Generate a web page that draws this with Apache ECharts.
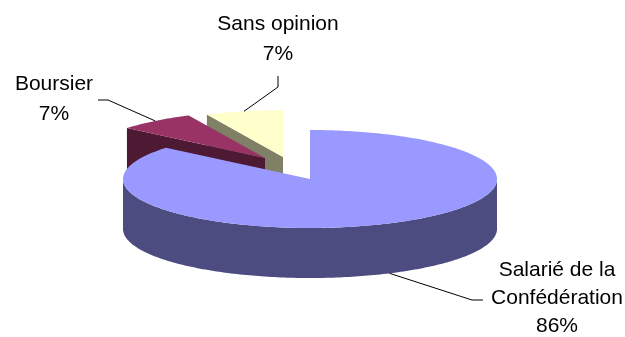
<!DOCTYPE html>
<html>
<head>
<meta charset="utf-8">
<script src="https://cdn.jsdelivr.net/npm/echarts@6/dist/echarts.min.js"></script>
<style>
  html, body { margin: 0; padding: 0; background: #ffffff; }
  #chart { width: 625px; height: 337px; }
</style>
</head>
<body>
<div id="chart"></div>
<script>
// Survey answers
const categories = ['Salarié de la Confédération', 'Boursier', 'Sans opinion'];
const labelNames = ['Salarié de la\nConfédération', 'Boursier', 'Sans opinion'];
const values = [86, 7, 7];

// Slice colours: top face and shaded sides
const topColors = ['#9999FF', '#993366', '#FFFFCC'];
const sideColors = ['#4C4C80', '#4D1933', '#808066'];

// 3D pie geometry (ellipse radii + thickness)
const pie = { cx: 310, cy: 179, rx: 187, ry: 49, depth: 50 };
// Screen offset of each exploded slice
const explode = [[0, 0], [-45, -21], [-27, -22]];
// Perspective shrink per pixel moved towards the back
const perspective = 0.002;
// Painting order (back to front)
const layer = [3, 2, 1];
// Label placement and leader-line bends
const labelLayout = [
  { x: 557, y: 298, lineHeight: 28, elbow: [472, 300], end: [483, 300] },
  { x: 54, y: 99, lineHeight: 30, elbow: [108, 100], end: [98, 100] },
  { x: 278, y: 39, lineHeight: 30, elbow: [278, 87], end: [278, 76] }
];

const total = values.reduce((a, b) => a + b, 0);
const starts = [];
values.reduce((acc, v, i) => { starts[i] = acc; return acc + v; }, 0);

function makePoint(c, k) {
  return function (a, dy) {
    return [c[0] + pie.rx * k * Math.sin(a), c[1] - pie.ry * k * Math.cos(a) + (dy || 0)];
  };
}
function arc(pt, a0, a1, dy) {
  const n = Math.max(2, Math.ceil(Math.abs(a1 - a0) / (Math.PI / 180)));
  const pts = [];
  for (let k = 0; k <= n; k++) pts.push(pt(a0 + (a1 - a0) * k / n, dy));
  return pts;
}

function renderItem(params, api) {
  const i = params.dataIndex;
  const v = api.value(1);
  const a0 = starts[i] / total * Math.PI * 2;
  const a1 = a0 + v / total * Math.PI * 2;
  const c = [pie.cx + explode[i][0], pie.cy + explode[i][1]];
  const k = 1 + explode[i][1] * perspective;
  const pt = makePoint(c, k);
  const h = pie.depth * k;
  const base = layer[i] * 10;
  const children = [];

  // radial cut faces facing the viewer
  [[a0, Math.sin(a0) < -1e-6], [a1, Math.sin(a1) > 1e-6]].forEach(function (f) {
    if (!f[1]) return;
    const p = pt(f[0]);
    children.push({ type: 'polygon', z2: base,
      shape: { points: [c, p, [p[0], p[1] + h], [c[0], c[1] + h]] },
      style: { fill: sideColors[i] } });
  });
  // outer rim, front half only
  const s = Math.max(a0, Math.PI / 2), e = Math.min(a1, Math.PI * 1.5);
  if (s < e) {
    const rim = arc(pt, s, e, 0).concat(arc(pt, e, s, h));
    children.push({ type: 'polygon', z2: base + 1,
      shape: { points: rim }, style: { fill: sideColors[i] } });
  }
  // top face
  children.push({ type: 'polygon', z2: base + 2,
    shape: { points: [c].concat(arc(pt, a0, a1, 0)) },
    style: { fill: topColors[i] } });

  // leader line and label
  const mid = (a0 + a1) / 2;
  const anchor = pt(mid, Math.cos(mid) < 0 ? h : 0);
  const L = labelLayout[i];
  children.push({ type: 'polyline', z2: 100,
    shape: { points: [anchor, L.elbow, L.end] },
    style: { stroke: '#000000', lineWidth: 1, fill: null } });
  const pct = Math.round(v / total * 100) + '%';
  children.push({ type: 'text', z2: 101, x: L.x, y: L.y,
    style: {
      text: labelNames[i] + '\n' + pct,
      fill: '#000000',
      fontSize: 21,
      fontFamily: '"Liberation Sans", Arial, sans-serif',
      lineHeight: L.lineHeight,
      align: 'center',
      verticalAlign: 'middle'
    } });

  return { type: 'group', children: children };
}

const chart = echarts.init(document.getElementById('chart'), null, { renderer: 'canvas' });
chart.setOption({
  backgroundColor: '#ffffff',
  animation: false,
  series: [{
    type: 'custom',
    coordinateSystem: 'none',
    silent: true,
    data: values.map((v, i) => ({ name: categories[i], value: [i, v] })),
    renderItem: renderItem
  }]
});
</script>
</body>
</html>
